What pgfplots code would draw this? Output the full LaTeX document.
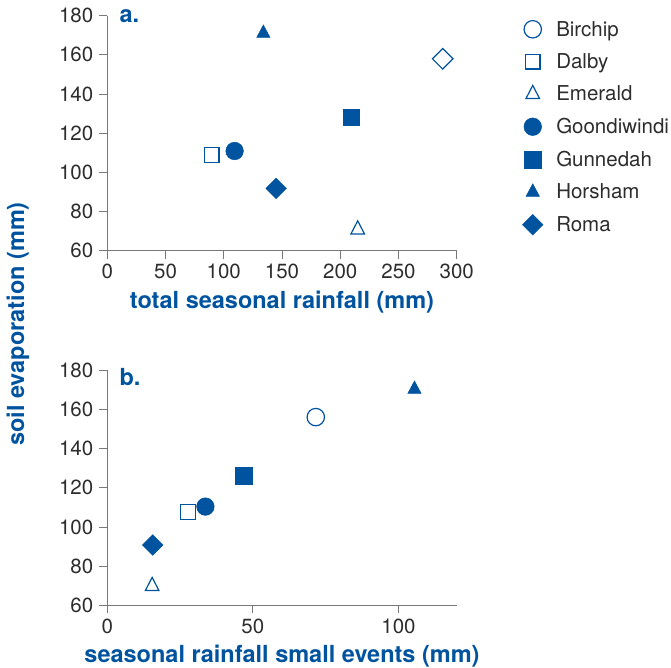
\documentclass[border=0pt]{standalone}
\usepackage{fontspec}
\setmainfont{TeX Gyre Heros}
\usepackage{pgfplots}
\pgfplotsset{compat=1.18}
\definecolor{cblue}{RGB}{0,84,159}
\definecolor{ctext}{RGB}{45,45,45}
\definecolor{caxis}{RGB}{120,120,120}
\pgfplotsset{
 mystyle/.style={
  scale only axis, width=349.4bp, height=235bp,
  axis lines=left, axis line style={caxis, line width=0.8bp, -},
  tick align=outside, major tick length=8bp, tick style={caxis, line width=0.8bp},
  ymin=60, ymax=180, ytick={60,80,...,180},
  tick label style={font=\fontsize{20.5bp}{24bp}\selectfont, text=ctext},
  yticklabel style={xshift=-2.5bp},
  xticklabel style={yshift=-2bp},
  /pgf/number format/assume math mode=true,
  xlabel style={font=\fontsize{23.5bp}{27bp}\selectfont\bfseries, text=cblue,
    at={(axis description cs:0.5,0)}, anchor=base, yshift=-57.5bp},
  clip=false,
 },
 openm/.style={only marks, mark options={draw=cblue, fill=white, line width=1.2bp}},
 fillm/.style={only marks, mark options={draw=cblue, fill=cblue, line width=0.5bp}},
 pbirchip/.style={openm, mark=*, mark size=8.7bp},
 pdalby/.style={openm, mark=square*, mark size=7.3bp},
 pemerald/.style={openm, mark=triangle*, mark size=7.8bp, mark options={yscale=1.12, draw=cblue, fill=white, line width=1.2bp}},
 pgoondi/.style={fillm, mark=*, mark size=8.8bp},
 pgunne/.style={fillm, mark=square*, mark size=8.4bp},
 phorsham/.style={fillm, mark=triangle*, mark size=7.8bp, mark options={yscale=1.08, draw=cblue, fill=cblue}},
 proma/.style={fillm, mark=square*, mark size=7.3bp, mark options={rotate=45, draw=cblue, fill=cblue}},
}
\begin{document}
\begin{tikzpicture}
\useasboundingbox (0,0) rectangle (671bp,668bp);
\begin{axis}[mystyle, at={(107.3bp,417.3bp)}, anchor=south west,
  xmin=0, xmax=300, xtick={0,50,...,300},
  xlabel={total seasonal rainfall (mm)},
  legend style={draw=none, fill=none, at={(1.179,0.995)}, anchor=north west,
    font=\fontsize{20.5bp}{24bp}\selectfont, text=ctext, row sep=12bp},
  legend image code/.code={\path[draw=none, fill=none] (-9bp,-9bp) rectangle (21.5bp,9bp); \draw[#1] plot coordinates {(0bp,0bp)};},
  legend cell align=left]
\addlegendimage{pbirchip}\addlegendentry{Birchip}
\addlegendimage{pdalby}\addlegendentry{Dalby}
\addlegendimage{pemerald}\addlegendentry{Emerald}
\addlegendimage{pgoondi}\addlegendentry{Goondiwindi}
\addlegendimage{pgunne}\addlegendentry{Gunnedah}
\addlegendimage{phorsham}\addlegendentry{Horsham}
\addlegendimage{proma}\addlegendentry{Roma}
\addplot[openm, mark=square*, mark size=7.3bp, mark options={rotate=45, draw=cblue, fill=white, line width=1.2bp}, forget plot] coordinates {(288,158)};
\addplot[pdalby, forget plot] coordinates {(89.6,108.9)};
\addplot[pemerald, forget plot] coordinates {(215,70.8)};
\addplot[pgoondi, forget plot] coordinates {(109.3,110.9)};
\addplot[pgunne, forget plot] coordinates {(209.5,128.1)};
\addplot[phorsham, forget plot] coordinates {(134,171)};
\addplot[proma, forget plot] coordinates {(145,91.8)};
\node[anchor=base west, xshift=12bp, yshift=-7bp, text=cblue, font=\fontsize{23.5bp}{27bp}\selectfont\bfseries, inner sep=0pt] at (rel axis cs:0,1) {a.};
\end{axis}
\begin{axis}[mystyle, at={(107.3bp,62.7bp)}, anchor=south west,
  xmin=0, xmax=120, xtick={0,50,100},
  xlabel={seasonal rainfall small events (mm)}]
\addplot[pbirchip] coordinates {(71.6,156.1)};
\addplot[pdalby] coordinates {(27.7,107.6)};
\addplot[pemerald] coordinates {(15.4,69.8)};
\addplot[pgoondi] coordinates {(33.7,110.4)};
\addplot[pgunne] coordinates {(46.8,126.3)};
\addplot[phorsham] coordinates {(105.5,170.3)};
\addplot[proma] coordinates {(15.6,90.8)};
\node[anchor=base west, xshift=12bp, yshift=-15bp, text=cblue, font=\fontsize{23.5bp}{27bp}\selectfont\bfseries, inner sep=0pt] at (rel axis cs:0,1) {b.};
\end{axis}
\node[rotate=90, text=cblue, font=\fontsize{23.5bp}{27bp}\selectfont\bfseries] at (18bp,344bp) {soil evaporation (mm)};
\end{tikzpicture}
\end{document}
